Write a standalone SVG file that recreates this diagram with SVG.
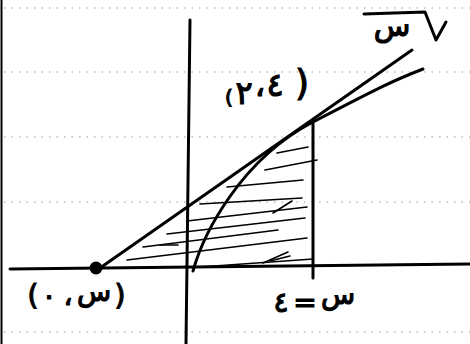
<svg xmlns="http://www.w3.org/2000/svg" width="470" height="344" viewBox="0 0 470 344">
<style>
.grid{stroke:#9a9a9a;stroke-width:1.2;stroke-dasharray:1.5 6;fill:none}
.ink{stroke:#000;stroke-width:3;fill:none;stroke-linecap:round;stroke-linejoin:round}
.hatch{stroke:#000;stroke-width:1.6;fill:none;stroke-linecap:round}
.lbl{font-family:"DejaVu Sans",sans-serif;fill:#000;stroke:#000;stroke-width:1.2;text-anchor:middle}
</style>
<rect width="470" height="344" fill="#fff"/>
<g id="grid">
<line class="grid" x1="4" y1="8" x2="470" y2="8"/>
<line class="grid" x1="4" y1="72" x2="470" y2="72"/>
<line class="grid" x1="4" y1="137" x2="470" y2="137"/>
<line class="grid" x1="4" y1="202" x2="470" y2="202"/>
<line class="grid" x1="4" y1="332" x2="470" y2="332"/>
</g>
<line x1="1.5" y1="0" x2="1.5" y2="344" stroke="#000" stroke-width="2"/>
<g id="axes">
<path class="ink" d="M190,20 L186,344"/>
<path class="ink" d="M10,269 L470,264"/>
</g>
<g id="hatching">
<path class="hatch" d="M277,153 L308,147"/>
<path class="hatch" d="M265,170 L317,160"/>
<path class="hatch" d="M227,187 L303,180"/>
<path class="hatch" d="M200,204 L302,198"/>
<path class="hatch" d="M187,221 L307,207"/>
<path class="hatch" d="M273,213 L292,201"/>
<path class="hatch" d="M167,234 L305,218"/>
<path class="hatch" d="M143,247 L278,230"/>
<path class="hatch" d="M160,245 L178,245"/>
<path class="hatch" d="M127,260 L307,238"/>
<path class="hatch" d="M200,267 L313,259"/>
<path class="hatch" d="M263,263 L288,252"/>
<path class="hatch" d="M270,261 L290,256"/>
</g>
<g id="tangent">
<path class="ink" d="M100,268 L412,50"/>
<circle cx="96" cy="268" r="6.5" fill="#000"/>
</g>
<g id="curve">
<path class="ink" d="M193,271 C203,235 240,160 313,122 S395,80 423,69"/>
</g>
<g id="x4">
<path class="ink" d="M313,123 L313,278"/>
</g>
<g id="label-point42">
<text class="lbl" x="229" y="104" font-size="20">(</text>
<text class="lbl" x="244" y="104" font-size="32">٢</text>
<text class="lbl" x="260" y="96" font-size="32">،</text>
<text class="lbl" x="275" y="96" font-size="32">٤</text>
<text class="lbl" x="302" y="95" font-size="36">)</text>
</g>
<g id="label-point-x0" font-size="28">
<text class="lbl" x="33" y="305">(</text>
<text class="lbl" x="49" y="305">٠</text>
<text class="lbl" x="68" y="305">،</text>
<text class="lbl" x="94" y="301">س</text>
<text class="lbl" x="120" y="305">)</text>
</g>
<g id="label-x4" font-size="28">
<text class="lbl" x="281" y="312">٤</text>
<text class="lbl" x="305" y="312">=</text>
<text class="lbl" x="338" y="304">س</text>
</g>
<g id="label-sqrt">
<text class="lbl" x="392" y="36" font-size="30">س</text>
<path class="ink" d="M364,14 L425,12 L436,40 L446,22"/>
</g>
</svg>
